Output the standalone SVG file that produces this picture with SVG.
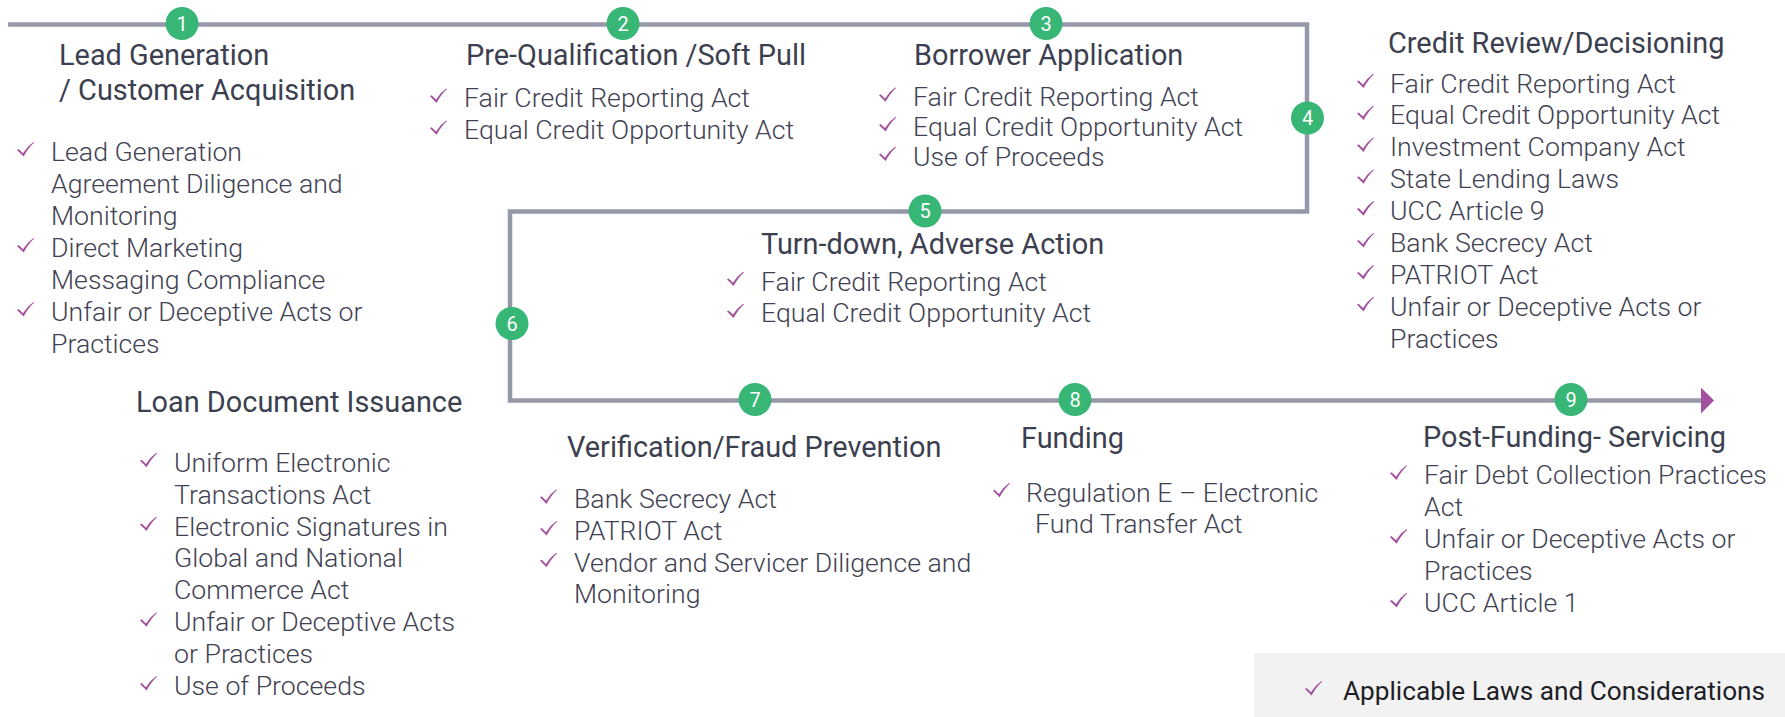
<svg xmlns="http://www.w3.org/2000/svg" xmlns:xlink="http://www.w3.org/1999/xlink" width="1785" height="717" viewBox="0 0 1785 717">
  <style>
    .title { font-family: Roboto, "Liberation Sans", sans-serif; font-size: 28.9px; font-weight: 400; fill: #3c3f4f; }
    .item  { font-family: Roboto, "Liberation Sans", sans-serif; font-size: 26.7px; font-weight: 300; fill: #3f4252; }
    .step  { fill: #37b676; }
    .num   { font-family: Roboto, "Liberation Sans", sans-serif; font-size: 20px; font-weight: 400; fill: #ffffff; text-anchor: middle; }
    .legend { font-family: Roboto, "Liberation Sans", sans-serif; font-size: 26.2px; font-weight: 400; fill: #1e1f26; }
  </style>
  <defs>
    <symbol id="tick" viewBox="0 0 17 15">
      <path d="M0,8 L1.6,7 L6,11.2 Q10,4.5 16.4,0 L17,0.8 Q11.2,6 6.6,14.6 Z" fill="#a3509e"/>
    </symbol>
    <marker id="arrow" markerUnits="userSpaceOnUse" markerWidth="14" markerHeight="26" refX="0" refY="13" orient="auto">
      <path d="M0,0 L13,13 L0,26 Z" fill="#a3509e"/>
    </marker>
  </defs>

  <rect width="1785" height="717" fill="#ffffff"/>

  <!-- process line -->
  <g id="connectors">
    <path d="M8,24.5 H1307 V211.5 H510 V400.5 H1701" fill="none" stroke="#9598a8" stroke-width="4.5" marker-end="url(#arrow)"/>
  </g>

  <!-- step markers -->
  <g id="steps">
    <circle class="step" cx="182" cy="23.5" r="16.5"/><text class="num" x="182" y="30.5">1</text>
    <circle class="step" cx="623" cy="23.5" r="16.5"/><text class="num" x="623" y="30.5">2</text>
    <circle class="step" cx="1046" cy="23.5" r="16.5"/><text class="num" x="1046" y="30.5">3</text>
    <circle class="step" cx="1307.5" cy="118" r="16.5"/><text class="num" x="1307.5" y="125">4</text>
    <circle class="step" cx="925" cy="211" r="16.5"/><text class="num" x="925" y="218">5</text>
    <circle class="step" cx="512" cy="323.5" r="16.5"/><text class="num" x="512" y="330.5">6</text>
    <circle class="step" cx="755" cy="399.5" r="16.5"/><text class="num" x="755" y="406.5">7</text>
    <circle class="step" cx="1075" cy="399.5" r="16.5"/><text class="num" x="1075" y="406.5">8</text>
    <circle class="step" cx="1571" cy="399.5" r="16.5"/><text class="num" x="1571" y="406.5">9</text>
  </g>

  <g id="lead-generation">
    <text class="title" x="59" y="65">Lead Generation</text>
    <text class="title" x="59" y="100">/ Customer Acquisition</text>
    <use href="#tick" x="17" y="142" width="17" height="15"/>
    <text class="item" x="51" y="161">Lead Generation</text>
    <text class="item" x="51" y="193">Agreement Diligence and</text>
    <text class="item" x="51" y="225">Monitoring</text>
    <use href="#tick" x="17" y="238" width="17" height="15"/>
    <text class="item" x="51" y="257">Direct Marketing</text>
    <text class="item" x="51" y="289">Messaging Compliance</text>
    <use href="#tick" x="17" y="302" width="17" height="15"/>
    <text class="item" x="51" y="321">Unfair or Deceptive Acts or</text>
    <text class="item" x="51" y="353">Practices</text>
  </g>

  <g id="pre-qualification">
    <text class="title" x="466" y="65">Pre-Qualification /Soft Pull</text>
    <use href="#tick" x="430" y="88.3" width="17" height="15"/>
    <text class="item" x="464" y="107.3">Fair Credit Reporting Act</text>
    <use href="#tick" x="430" y="120.2" width="17" height="15"/>
    <text class="item" x="464" y="139.2">Equal Credit Opportunity Act</text>
  </g>

  <g id="borrower-application">
    <text class="title" x="914" y="65">Borrower Application</text>
    <use href="#tick" x="879" y="87.2" width="17" height="15"/>
    <text class="item" x="913" y="106.2">Fair Credit Reporting Act</text>
    <use href="#tick" x="879" y="116.9" width="17" height="15"/>
    <text class="item" x="913" y="135.9">Equal Credit Opportunity Act</text>
    <use href="#tick" x="879" y="146.5" width="17" height="15"/>
    <text class="item" x="913" y="165.5">Use of Proceeds</text>
  </g>

  <g id="credit-review">
    <text class="title" x="1388" y="53">Credit Review/Decisioning</text>
    <use href="#tick" x="1357" y="73.5" width="17" height="15"/>
    <text class="item" x="1390" y="92.5">Fair Credit Reporting Act</text>
    <use href="#tick" x="1357" y="105.4" width="17" height="15"/>
    <text class="item" x="1390" y="124.4">Equal Credit Opportunity Act</text>
    <use href="#tick" x="1357" y="137.3" width="17" height="15"/>
    <text class="item" x="1390" y="156.3">Investment Company Act</text>
    <use href="#tick" x="1357" y="169.2" width="17" height="15"/>
    <text class="item" x="1390" y="188.2">State Lending Laws</text>
    <use href="#tick" x="1357" y="201.1" width="17" height="15"/>
    <text class="item" x="1390" y="220.1">UCC Article 9</text>
    <use href="#tick" x="1357" y="233" width="17" height="15"/>
    <text class="item" x="1390" y="252">Bank Secrecy Act</text>
    <use href="#tick" x="1357" y="264.9" width="17" height="15"/>
    <text class="item" x="1390" y="283.9">PATRIOT Act</text>
    <use href="#tick" x="1357" y="296.8" width="17" height="15"/>
    <text class="item" x="1390" y="315.8">Unfair or Deceptive Acts or</text>
    <text class="item" x="1390" y="347.7">Practices</text>
  </g>

  <g id="turn-down">
    <text class="title" x="761" y="254">Turn-down, Adverse Action</text>
    <use href="#tick" x="727" y="271.5" width="17" height="15"/>
    <text class="item" x="761" y="290.5">Fair Credit Reporting Act</text>
    <use href="#tick" x="727" y="303.4" width="17" height="15"/>
    <text class="item" x="761" y="322.4">Equal Credit Opportunity Act</text>
  </g>

  <g id="loan-document-issuance">
    <text class="title" x="136" y="412">Loan Document Issuance</text>
    <use href="#tick" x="140" y="452.7" width="17" height="15"/>
    <text class="item" x="174" y="471.7">Uniform Electronic</text>
    <text class="item" x="174" y="503.6">Transactions Act</text>
    <use href="#tick" x="140" y="516.5" width="17" height="15"/>
    <text class="item" x="174" y="535.5">Electronic Signatures in</text>
    <text class="item" x="174" y="567.4">Global and National</text>
    <text class="item" x="174" y="599.3">Commerce Act</text>
    <use href="#tick" x="140" y="612.2" width="17" height="15"/>
    <text class="item" x="174" y="631.2">Unfair or Deceptive Acts</text>
    <text class="item" x="174" y="663.1">or Practices</text>
    <use href="#tick" x="140" y="676" width="17" height="15"/>
    <text class="item" x="174" y="695">Use of Proceeds</text>
  </g>

  <g id="verification">
    <text class="title" x="567" y="457">Verification/Fraud Prevention</text>
    <use href="#tick" x="540" y="489.3" width="17" height="15"/>
    <text class="item" x="574" y="508.3">Bank Secrecy Act</text>
    <use href="#tick" x="540" y="521" width="17" height="15"/>
    <text class="item" x="574" y="540">PATRIOT Act</text>
    <use href="#tick" x="540" y="552.7" width="17" height="15"/>
    <text class="item" x="574" y="571.7">Vendor and Servicer Diligence and</text>
    <text class="item" x="574" y="603.3">Monitoring</text>
  </g>

  <g id="funding">
    <text class="title" x="1021" y="448">Funding</text>
    <use href="#tick" x="993" y="482.7" width="17" height="15"/>
    <text class="item" x="1026" y="501.7">Regulation E – Electronic</text>
    <text class="item" x="1035" y="533.3">Fund Transfer Act</text>
  </g>

  <g id="post-funding">
    <text class="title" x="1423" y="447">Post-Funding- Servicing</text>
    <use href="#tick" x="1390" y="465.3" width="17" height="15"/>
    <text class="item" x="1424" y="484.3">Fair Debt Collection Practices</text>
    <text class="item" x="1424" y="516.2">Act</text>
    <use href="#tick" x="1390" y="529.1" width="17" height="15"/>
    <text class="item" x="1424" y="548.1">Unfair or Deceptive Acts or</text>
    <text class="item" x="1424" y="580">Practices</text>
    <use href="#tick" x="1390" y="592.9" width="17" height="15"/>
    <text class="item" x="1424" y="611.9">UCC Article 1</text>
  </g>

  <g id="legend">
    <rect x="1254" y="653" width="531" height="64" fill="#f2f2f2"/>
    <use href="#tick" x="1305" y="681" width="17" height="15"/>
    <text class="legend" x="1343" y="700">Applicable Laws and Considerations</text>
  </g>
</svg>
